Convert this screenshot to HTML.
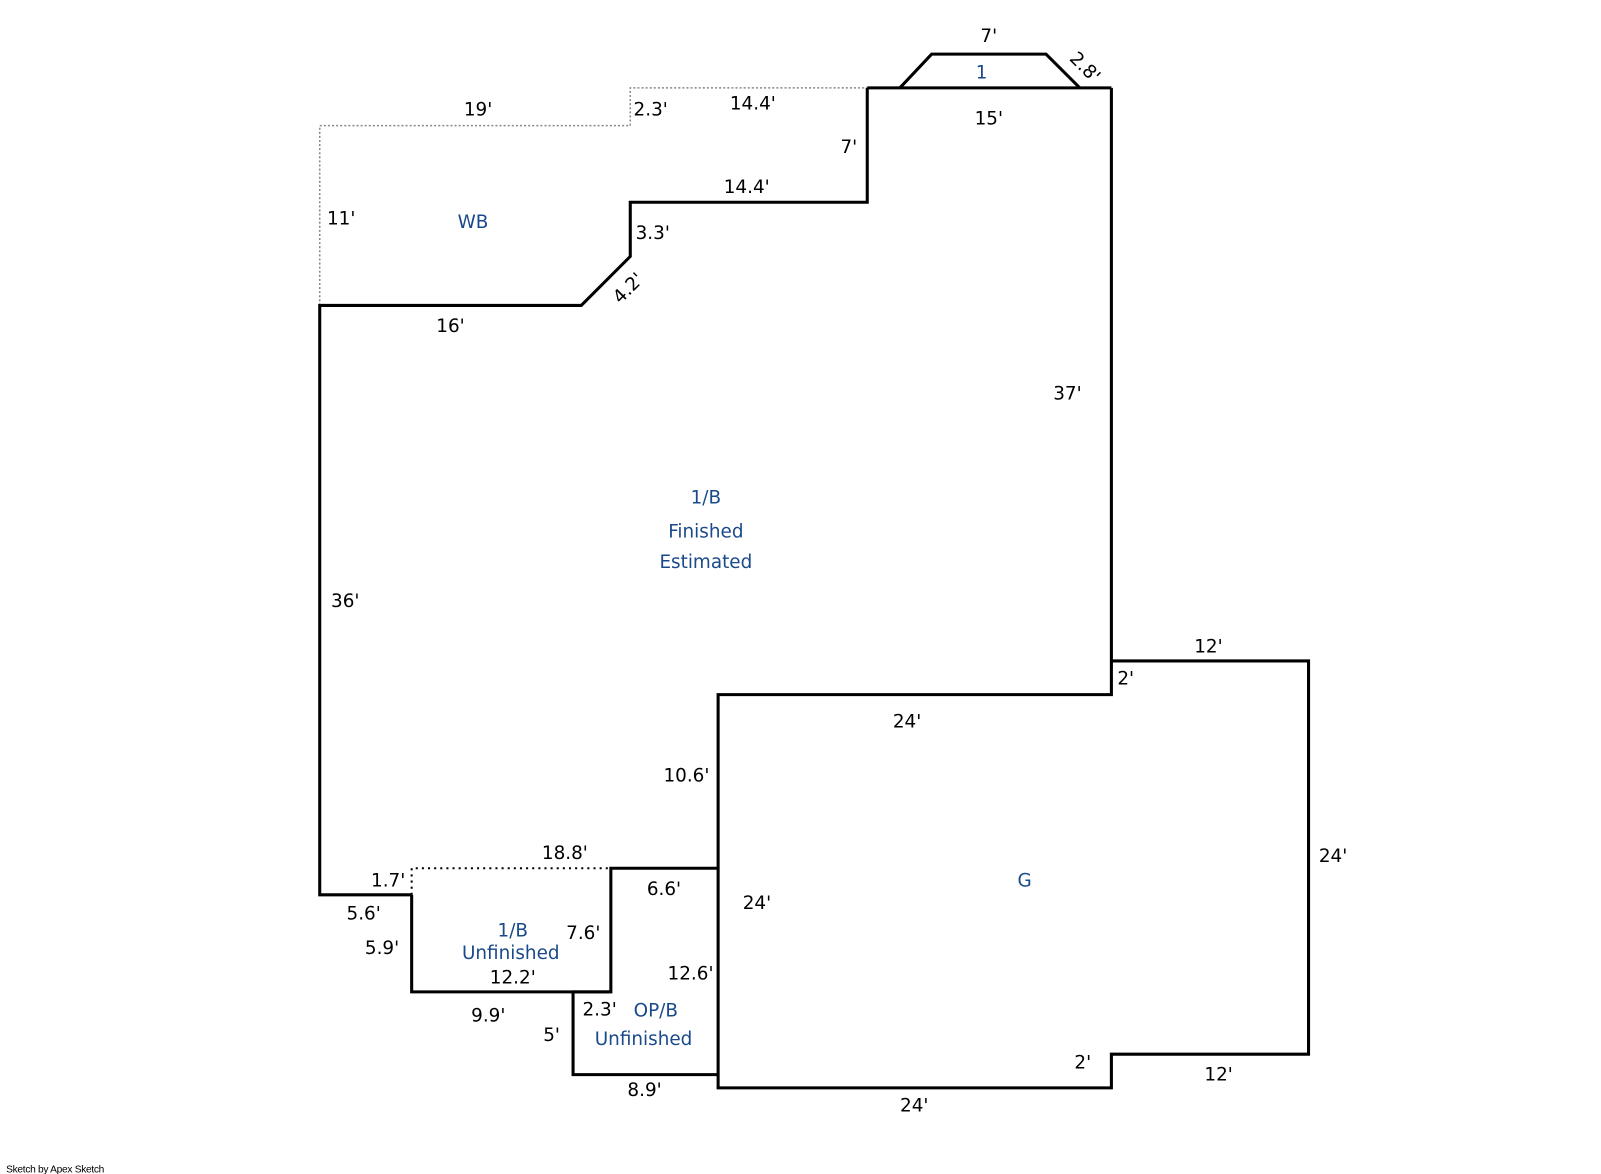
<!DOCTYPE html>
<html><head><meta charset="utf-8"><style>
html,body{margin:0;padding:0;background:#fff;}
svg{display:block;}
text{font-family:"DejaVu Sans","Liberation Sans",sans-serif;font-size:18px;fill:#000;}
.b{fill:#1a4a8a;}
</style></head><body>
<svg width="1601" height="1174" viewBox="0 0 1601 1174" xmlns="http://www.w3.org/2000/svg">
<g transform="scale(1.0215)">
<g fill="none" stroke-linejoin="miter">
<polyline points="313,299 313,123 617,123 617,86 849,86" stroke="#888" stroke-width="1.5" stroke-dasharray="2,2"/>
<polyline points="403,876 403,850 598,850" stroke="#000" stroke-width="2" stroke-dasharray="2,4"/>
<g stroke="#000" stroke-width="3">
<polyline points="849,86 1088,86"/>
<polyline points="403,876 313,876 313,299 569,299 617,251 617,198 849,198 849,86"/>
<polyline points="1088,86 1088,680 703,680 703,1065 1088,1065 1088,1032 1281,1032 1281,647 1088,647 1088,680"/>
<polyline points="881,86 912,53 1024,53 1057,86"/>
<polyline points="403,876 403,971 598,971 598,850 703,850"/>
<polyline points="598,971 561,971 561,1052 703,1052"/>
</g>
</g>
<g>
<text x="968" y="41" text-anchor="middle">7'</text>
<text x="1058" y="70" transform="rotate(45 1058 70)" text-anchor="middle">2.8'</text>
<text x="961" y="77" text-anchor="middle" class="b">1</text>
<text x="968" y="122" text-anchor="middle">15'</text>
<text x="468" y="113" text-anchor="middle">19'</text>
<text x="637" y="113" text-anchor="middle">2.3'</text>
<text x="737" y="107" text-anchor="middle">14.4'</text>
<text x="831" y="150" text-anchor="middle">7'</text>
<text x="731" y="189" text-anchor="middle">14.4'</text>
<text x="334" y="220" text-anchor="middle">11'</text>
<text x="463" y="223" text-anchor="middle" class="b">WB</text>
<text x="639" y="234" text-anchor="middle">3.3'</text>
<text x="615" y="288" transform="rotate(-45 615 282)" text-anchor="middle">4.2'</text>
<text x="441" y="325" text-anchor="middle">16'</text>
<text x="1045" y="391" text-anchor="middle">37'</text>
<text x="691" y="493" text-anchor="middle" class="b">1/B</text>
<text x="691" y="526" text-anchor="middle" class="b">Finished</text>
<text x="691" y="556" text-anchor="middle" class="b">Estimated</text>
<text x="338" y="594" text-anchor="middle">36'</text>
<text x="1183" y="639" text-anchor="middle">12'</text>
<text x="1102" y="670" text-anchor="middle">2'</text>
<text x="888" y="712" text-anchor="middle">24'</text>
<text x="672" y="765" text-anchor="middle">10.6'</text>
<text x="553" y="841" text-anchor="middle">18.8'</text>
<text x="380" y="868" text-anchor="middle">1.7'</text>
<text x="650" y="876" text-anchor="middle">6.6'</text>
<text x="1003" y="868" text-anchor="middle" class="b">G</text>
<text x="1305" y="844" text-anchor="middle">24'</text>
<text x="356" y="900" text-anchor="middle">5.6'</text>
<text x="741" y="890" text-anchor="middle">24'</text>
<text x="502" y="917" text-anchor="middle" class="b">1/B</text>
<text x="571" y="919" text-anchor="middle">7.6'</text>
<text x="374" y="934" text-anchor="middle">5.9'</text>
<text x="500" y="939" text-anchor="middle" class="b">Unfinished</text>
<text x="676" y="959" text-anchor="middle">12.6'</text>
<text x="502" y="963" text-anchor="middle">12.2'</text>
<text x="587" y="994" text-anchor="middle">2.3'</text>
<text x="642" y="995" text-anchor="middle" class="b">OP/B</text>
<text x="478" y="1000" text-anchor="middle">9.9'</text>
<text x="540" y="1019" text-anchor="middle">5'</text>
<text x="630" y="1023" text-anchor="middle" class="b">Unfinished</text>
<text x="1060" y="1046" text-anchor="middle">2'</text>
<text x="1193" y="1058" text-anchor="middle">12'</text>
<text x="631" y="1073" text-anchor="middle">8.9'</text>
<text x="895" y="1088" text-anchor="middle">24'</text>
<text x="6" y="1148" style="font-size:10px;font-family:'Liberation Sans',sans-serif;letter-spacing:-0.3px">Sketch by Apex Sketch</text>
</g>
</g>
</svg>
</body></html>
